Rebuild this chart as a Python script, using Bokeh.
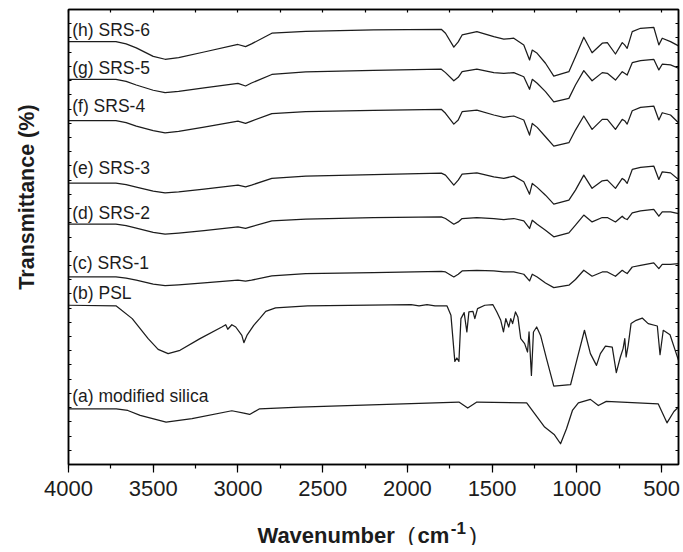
import numpy as np
from bokeh.plotting import figure
from bokeh.layouts import column
from bokeh.models import Range1d, LinearAxis, SingleIntervalTicker, FixedTicker, Label
from bokeh.embed import file_html
from bokeh.resources import INLINE

# ---------------- data ----------------
# common wavenumber grid used for the SRS samples (cm^-1)
wn_srs = [4000, 3720, 3660, 3600, 3500, 3430, 3350, 3200, 3000, 2955, 2920, 2800, 2600,
          2200, 1800, 1775, 1726, 1700, 1677, 1590, 1490, 1431, 1372, 1313, 1279, 1263,
          1234, 1185, 1136, 1047, 1008, 959, 910, 850, 820, 772, 732, 718, 703, 673, 624,
          546, 516, 496, 447, 400]

srs6 = [29.74, 29.74, 29.58, 29.30, 28.70, 28.50, 28.62, 29.01, 29.54, 29.39, 29.58, 30.33,
        30.46, 30.56, 30.61, 30.33, 29.35, 29.72, 30.21, 30.44, 30.09, 29.91, 29.98, 29.51,
        28.45, 29.15, 28.92, 28.22, 27.32, 27.63, 28.68, 30.05, 28.96, 29.63, 29.67, 28.87,
        29.67, 29.51, 29.27, 30.44, 30.68, 30.75, 29.51, 29.98, 29.74, 29.44]
srs5 = [27.09, 27.09, 26.95, 26.69, 26.32, 26.15, 26.25, 26.48, 26.81, 26.62, 26.83, 27.43,
        27.61, 27.71, 27.80, 27.56, 26.99, 27.23, 27.63, 27.80, 27.56, 27.51, 27.56, 27.27,
        26.39, 27.09, 26.81, 26.22, 25.51, 25.75, 26.69, 27.70, 26.99, 27.56, 27.51, 27.04,
        27.63, 27.51, 27.39, 28.26, 28.40, 28.50, 27.75, 28.15, 28.10, 27.87]
srs4 = [24.19, 24.19, 24.05, 23.80, 23.48, 23.33, 23.43, 23.73, 24.15, 23.99, 24.15, 24.68,
        24.82, 24.91, 24.98, 24.70, 23.94, 24.23, 24.81, 24.93, 24.58, 24.42, 24.51, 24.23,
        23.17, 23.99, 23.71, 23.05, 22.39, 22.63, 23.52, 24.51, 23.57, 24.27, 24.27, 23.57,
        24.27, 24.18, 23.94, 24.88, 25.12, 25.21, 24.23, 24.74, 24.58, 24.04]
srs3 = [19.79, 19.79, 19.68, 19.51, 19.22, 19.11, 19.18, 19.37, 19.65, 19.53, 19.65, 20.12,
        20.28, 20.39, 20.49, 20.35, 19.65, 20.00, 20.42, 20.51, 20.23, 20.12, 20.28, 19.88,
        19.01, 19.77, 19.49, 18.94, 18.31, 18.59, 19.30, 20.35, 19.42, 19.95, 20.00, 19.42,
        20.12, 20.00, 19.77, 20.75, 20.89, 20.99, 20.05, 20.58, 20.51, 20.05]
srs2 = [16.90, 16.90, 16.80, 16.62, 16.32, 16.20, 16.27, 16.44, 16.71, 16.60, 16.73, 17.13,
        17.25, 17.36, 17.42, 17.30, 16.90, 17.06, 17.30, 17.37, 17.30, 17.23, 17.30, 17.13,
        16.60, 17.18, 16.90, 16.48, 16.01, 16.29, 16.83, 17.54, 17.06, 17.37, 17.37, 17.06,
        17.46, 17.30, 17.23, 17.70, 17.84, 17.94, 17.46, 17.77, 17.77, 17.65]
srs1 = [13.20, 13.20, 13.10, 12.96, 12.68, 12.58, 12.64, 12.78, 12.96, 12.89, 12.96, 13.27,
        13.42, 13.50, 13.59, 13.54, 13.19, 13.38, 13.61, 13.66, 13.61, 13.54, 13.54, 13.38,
        12.91, 13.38, 13.19, 12.77, 12.44, 12.61, 13.01, 13.66, 13.24, 13.54, 13.54, 13.24,
        13.66, 13.54, 13.43, 13.89, 14.01, 14.18, 13.78, 14.08, 14.08, 14.13]

wn_psl = [4000, 3718, 3624, 3530, 3471, 3412, 3342, 3224, 3095, 3072, 3060, 3036, 3013,
          2977, 2965, 2947, 2907, 2872, 2836, 2778, 2589, 1978, 1931, 1884, 1837, 1766,
          1743, 1720, 1708, 1696, 1684, 1665, 1649, 1637, 1613, 1602, 1586, 1543, 1496,
          1472, 1449, 1433, 1419, 1402, 1390, 1379, 1362, 1348, 1331, 1308, 1291, 1282,
          1268, 1256, 1237, 1214, 1179, 1136, 1037, 1002, 955, 920, 884, 861, 831, 791,
          767, 743, 727, 717, 709, 697, 680, 650, 614, 579, 525, 509, 490, 450, 400]
psl = [11.20, 11.15, 10.26, 8.85, 8.10, 7.80, 8.03, 8.85, 9.67, 9.83, 9.51, 9.83, 9.67,
       9.08, 8.57, 9.08, 9.79, 10.26, 10.77, 11.01, 11.15, 11.25, 11.15, 11.25, 11.15, 11.15,
       10.49, 7.25, 7.49, 7.25, 10.26, 10.68, 9.32, 10.73, 10.77, 10.26, 10.96, 11.20, 11.25,
       10.73, 10.14, 9.32, 10.26, 9.67, 10.26, 9.91, 10.73, 10.38, 8.85, 8.50, 7.91, 9.32,
       6.27, 9.32, 9.67, 9.08, 7.44, 5.51, 5.61, 7.25, 9.44, 7.80, 6.97, 7.80, 8.33, 8.26,
       6.46, 7.56, 8.15, 8.85, 7.56, 8.38, 9.91, 10.14, 10.30, 9.91, 9.74, 7.72, 9.44, 9.13, 7.32]

wn_silica = [4000, 3718, 3650, 3577, 3424, 3271, 3036, 2965, 2931, 2872, 2637, 1696, 1672,
             1644, 1590, 1296, 1249, 1190, 1132, 1096, 1061, 1026, 991, 920, 873, 826, 520,
             468, 427, 400]
silica = [3.92, 3.92, 3.80, 3.45, 2.98, 3.22, 3.78, 3.62, 3.52, 3.92, 4.04, 4.39, 4.20,
          3.97, 4.39, 4.34, 3.57, 2.63, 2.09, 1.46, 2.51, 3.80, 4.34, 4.58, 4.15, 4.44, 4.27,
          2.93, 3.73, 4.04]

curve_labels = ["(h) SRS-6", "(g) SRS-5", "(f) SRS-4", "(e) SRS-3", "(d) SRS-2",
                "(c) SRS-1", "(b) PSL", "(a) modified silica"]
label_levels = [30.54, 27.87, 25.21, 20.85, 17.68, 14.15, 12.06, 4.79]

# ---------------- main figure ----------------
FONT = "Liberation Sans"
INK = "#1c1c1c"

xr = Range1d(4000, 400)
p = figure(frame_width=610, frame_height=455, output_backend="svg", toolbar_location=None,
           x_range=xr, y_range=Range1d(0, 32),
           x_axis_location=None, y_axis_location=None,
           min_border_left=68, min_border_right=5, min_border_top=9, min_border_bottom=42,
           background_fill_color="white", border_fill_color="white")
p.grid.visible = False
p.outline_line_color = "black"
p.outline_line_width = 1.5

bx = LinearAxis(ticker=SingleIntervalTicker(interval=500, num_minor_ticks=2))
bx.axis_line_color = "black"
bx.axis_line_width = 1.5
bx.major_tick_line_color = "black"
bx.minor_tick_line_color = "black"
bx.major_tick_line_width = 1.2
bx.minor_tick_line_width = 1.2
bx.major_tick_out = 8
bx.major_tick_in = 0
bx.minor_tick_out = 4
bx.minor_tick_in = 0
bx.major_label_text_font = FONT
bx.major_label_text_font_size = "22px"
bx.major_label_text_color = INK
bx.major_label_standoff = 8
p.add_layout(bx, "below")

def unlabeled_axis(ticks):
    ax = LinearAxis(ticker=FixedTicker(ticks=[], minor_ticks=ticks))
    ax.axis_line_color = "black"
    ax.axis_line_width = 1.5
    ax.minor_tick_line_color = "black"
    ax.minor_tick_line_width = 1.2
    ax.minor_tick_out = 0
    ax.minor_tick_in = 3
    ax.major_tick_line_color = None
    ax.major_label_standoff = 0
    return ax

top_ticks = list(range(500, 4001, 250))
side_ticks = list(range(0, 33))
p.add_layout(unlabeled_axis(top_ticks), "above")
p.add_layout(unlabeled_axis(side_ticks), "left")
p.add_layout(unlabeled_axis(side_ticks), "right")

series = [(wn_srs, srs6), (wn_srs, srs5), (wn_srs, srs4), (wn_srs, srs3),
          (wn_srs, srs2), (wn_srs, srs1), (wn_psl, psl), (wn_silica, silica)]
for xs, ys in series:
    p.line(xs, ys, line_color=INK, line_width=1.25, line_join="round")

for txt, lvl in zip(curve_labels, label_levels):
    p.add_layout(Label(x=3978, y=lvl, text=txt, text_font=FONT, text_font_size="17.5px",
                       text_color=INK, text_baseline="middle", text_align="left"))

# y-axis title (rotated), placed in the left side panel
p.add_layout(Label(x=4242, y=18.81, text="Transmittance (%)", angle=np.pi / 2,
                   text_font=FONT, text_font_size="21.5px", text_font_style="bold",
                   text_color=INK, text_align="center", text_baseline="middle"), "left")

# ---------------- strip below for the x-axis title ----------------
t = figure(frame_width=610, height=39, output_backend="svg", toolbar_location=None,
           x_range=xr, y_range=Range1d(0, 39),
           x_axis_location=None, y_axis_location=None,
           min_border_left=68, min_border_right=5, min_border_top=0, min_border_bottom=0,
           background_fill_color="white", border_fill_color="white")
t.grid.visible = False
t.outline_line_color = None

pieces = [("Wavenumber", 2885, 10, "22px", "bold"),
          ("(", 1998, 10, "22px", "normal"),
          ("cm", 1940, 10, "22px", "bold"),
          ("-1", 1744, 18, "17px", "bold"),
          (")", 1634, 10, "22px", "normal")]
for txt, xw, yb, fs, st in pieces:
    t.add_layout(Label(x=xw, y=yb, text=txt, text_font=FONT, text_font_size=fs,
                       text_font_style=st, text_color=INK, text_baseline="alphabetic"))

layout = column(p, t, spacing=0)
open("out.html", "w").write(file_html(layout, INLINE))
